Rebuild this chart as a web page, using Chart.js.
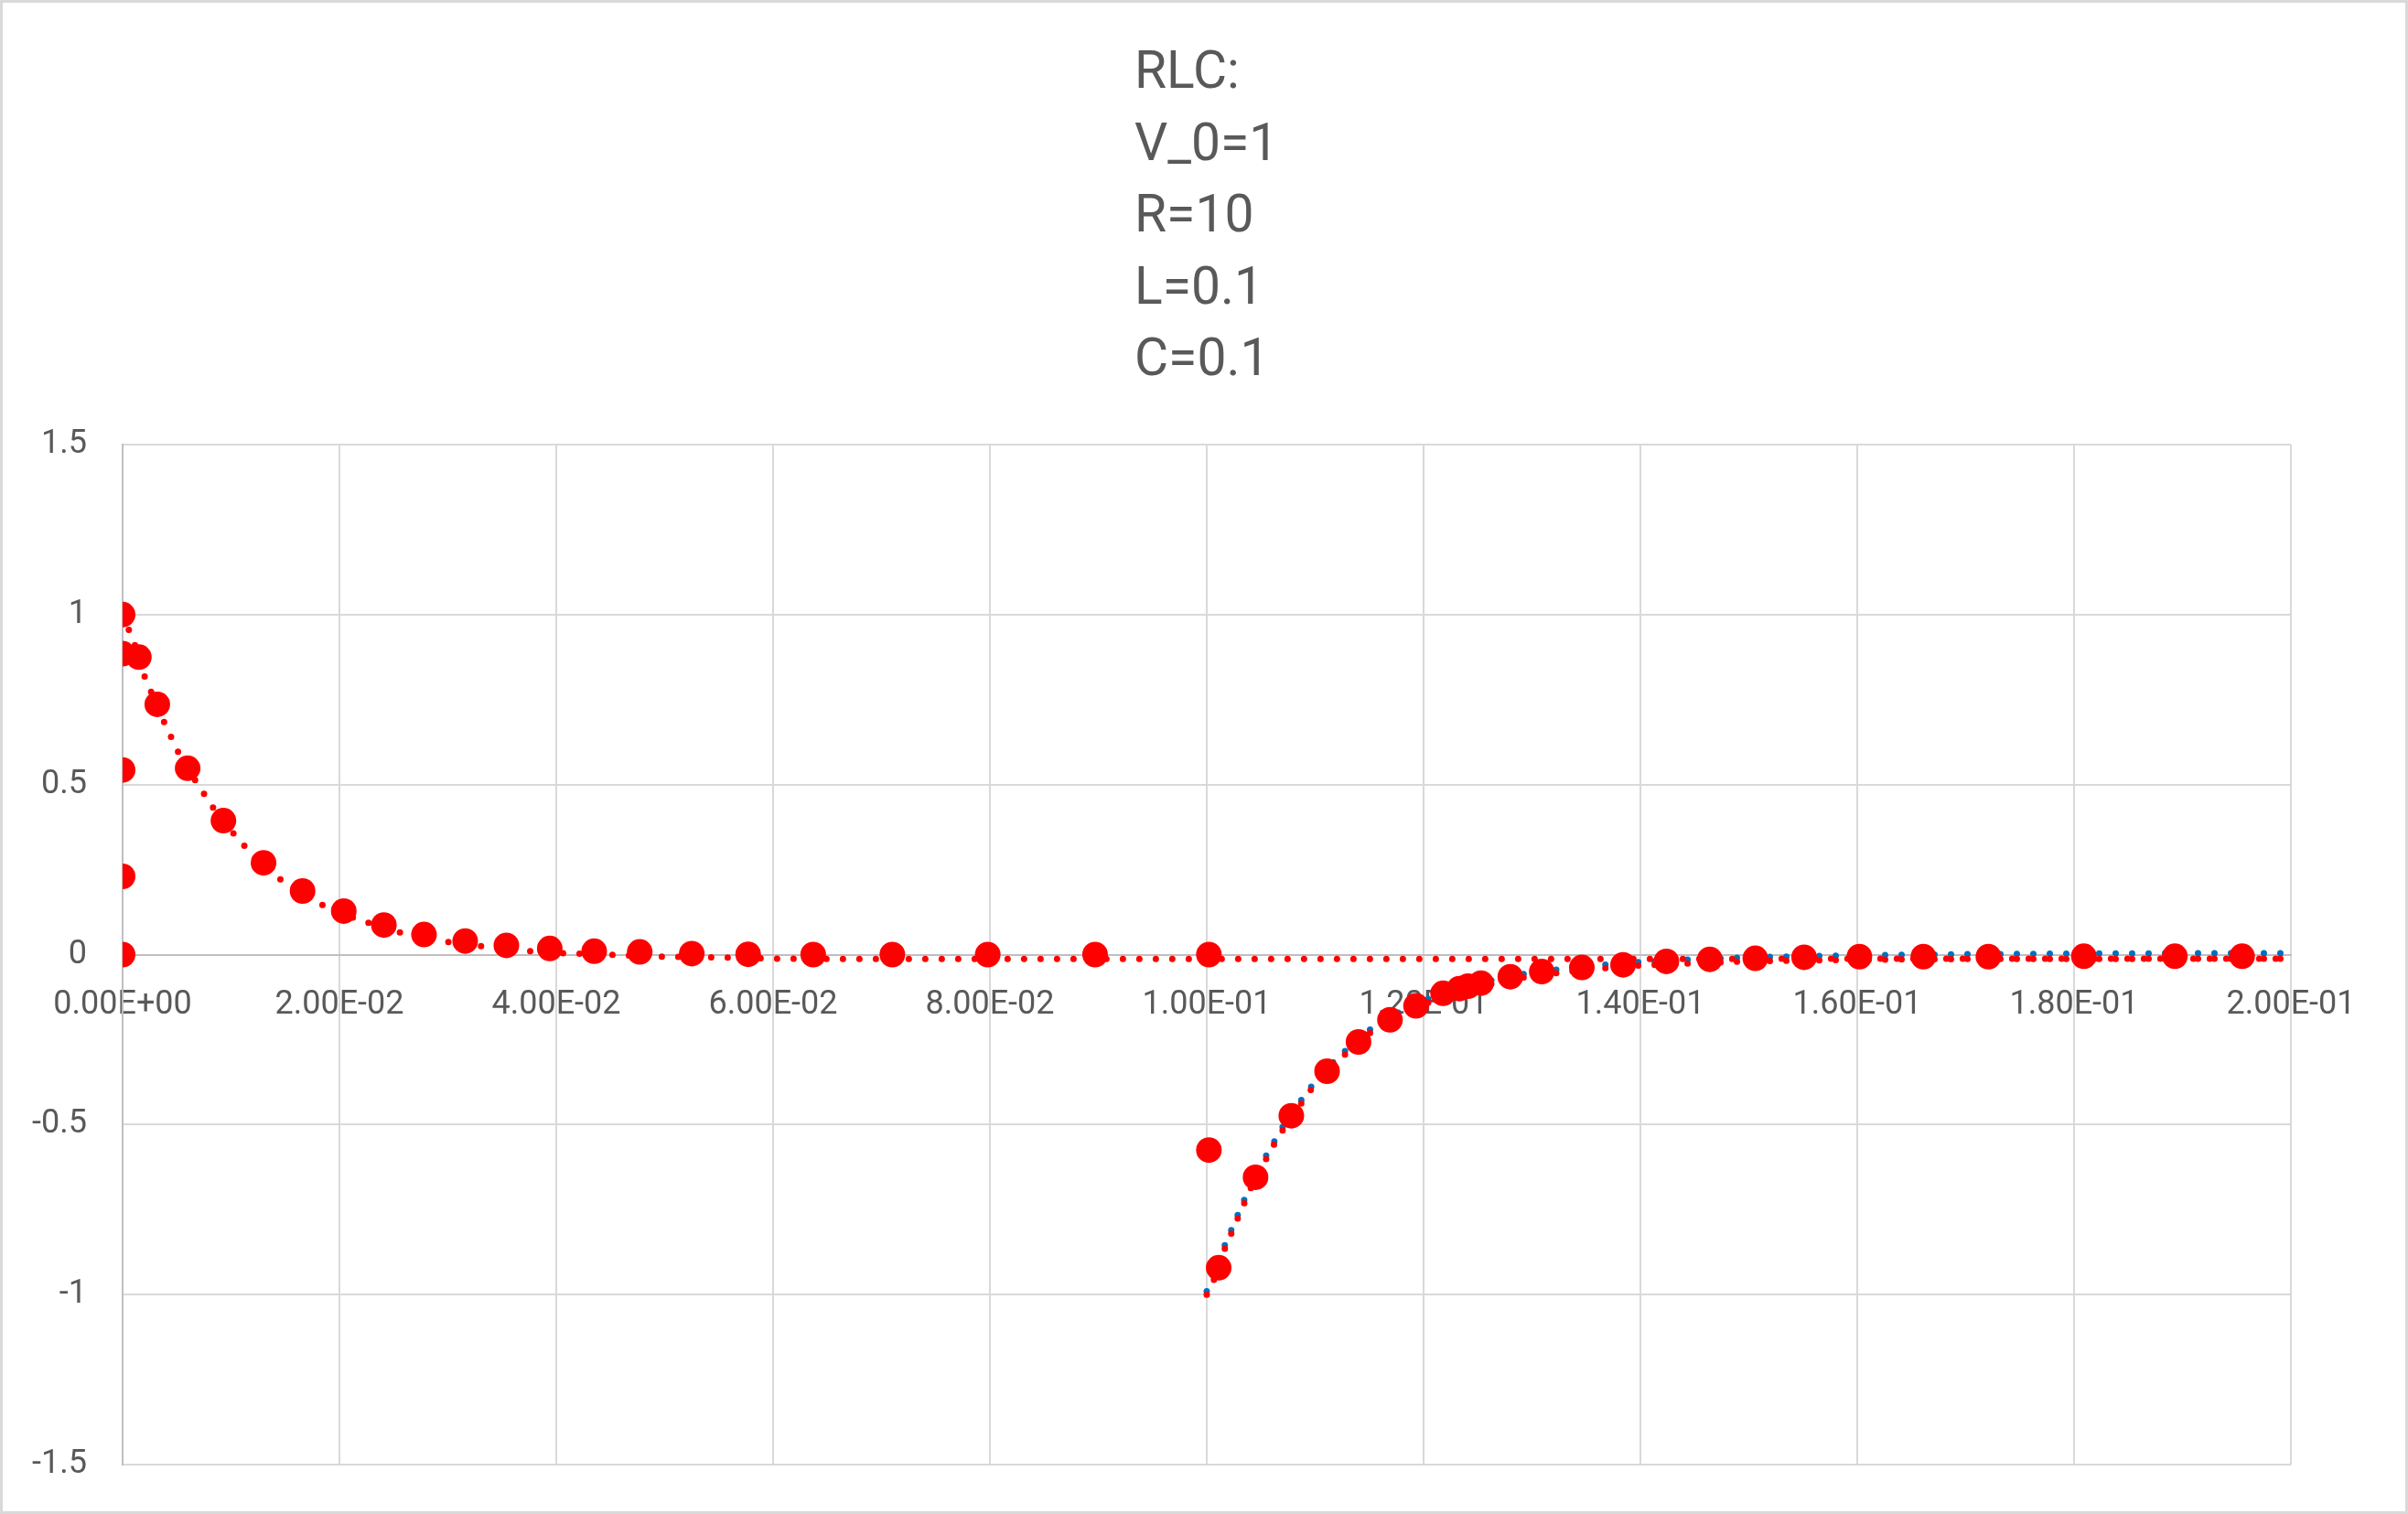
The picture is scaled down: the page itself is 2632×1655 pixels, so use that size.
<!DOCTYPE html>
<html>
<head>
<meta charset="utf-8">
<script src="https://cdn.jsdelivr.net/npm/chart.js@4"></script>
<style>
  html, body { margin: 0; padding: 0; background: #fff; }
  canvas { display: block; }
</style>
</head>
<body>
<canvas id="rlc" width="2632" height="1655"></canvas>
<script>
// chart title, one entry per line
const titleLines = ['RLC:', 'V_0=1', 'R=10', 'L=0.1', 'C=0.1'];

const xTickLabels = ['0.00E+00', '2.00E-02', '4.00E-02', '6.00E-02', '8.00E-02', '1.00E-01',
    '1.20E-01', '1.40E-01', '1.60E-01', '1.80E-01', '2.00E-01'];
const yTickLabels = ['-1.5', '-1', '-0.5', '0', '0.5', '1', '1.5'];

// solver steps (big red markers)
const stepTimes = [0, 0, 0, 0, 0, 0.0015, 0.0032, 0.0060, 0.0093, 0.0130, 0.0166, 0.0204,
    0.0241, 0.0278, 0.0316, 0.0354, 0.0394, 0.0435, 0.0477, 0.0525, 0.0577, 0.0637, 0.0710,
    0.0798, 0.0897, 0.1002, 0.1002, 0.1011, 0.1045, 0.1078, 0.1111, 0.1140, 0.1169, 0.1193,
    0.1218, 0.1233, 0.1241, 0.1253, 0.1280, 0.1309, 0.1346, 0.1384, 0.1424, 0.1464, 0.1506,
    0.1551, 0.1602, 0.1661, 0.1721, 0.1809, 0.1893, 0.1955];
const stepValues = [1.0, 0.885, 0.543, 0.230, 0, 0.875, 0.736, 0.548, 0.394, 0.270, 0.187, 0.128,
    0.087, 0.059, 0.040, 0.027, 0.018, 0.010, 0.008, 0.003, 0.001, 0, 0,
    0, 0, 0, -0.575, -0.921, -0.655, -0.474, -0.343, -0.257, -0.192, -0.151,
    -0.114, -0.100, -0.093, -0.084, -0.065, -0.050, -0.038, -0.030, -0.020, -0.014, -0.011,
    -0.008, -0.006, -0.006, -0.006, -0.005, -0.005, -0.005];

// red dotted curve, charging part
const riseTimes = [0, 0.0011, 0.002, 0.0038, 0.0051, 0.0067, 0.0083, 0.0102, 0.0125, 0.015,
    0.0175, 0.02, 0.025, 0.03, 0.033, 0.0376, 0.0407, 0.0452, 0.0497, 0.0543, 0.0604, 0.07,
    0.08, 0.1, 0.12, 0.14, 0.16, 0.18, 0.2];
const riseValues = [1.0, 0.914, 0.82, 0.686, 0.597, 0.513, 0.434, 0.357, 0.274, 0.21,
    0.16, 0.122, 0.069, 0.037, 0.025, 0.010, 0.004, -0.001, -0.006, -0.008, -0.012, -0.013,
    -0.013, -0.013, -0.013, -0.013, -0.012, -0.012, -0.012];

// red dotted curve, after switch-off
const fallTimes = [0.1, 0.1006, 0.1016, 0.1022, 0.1028, 0.1034, 0.104, 0.1054, 0.1061, 0.1069,
    0.1086, 0.1095, 0.1105, 0.1126, 0.115, 0.1175, 0.12, 0.1225, 0.125, 0.1275, 0.13, 0.135,
    0.14, 0.145, 0.15, 0.16, 0.17, 0.18, 0.19, 0.2];
const fallValues = [-1.0, -0.962, -0.870, -0.825, -0.78, -0.736, -0.691, -0.606, -0.564, -0.522,
    -0.443, -0.402, -0.362, -0.298, -0.232, -0.183, -0.146, -0.117, -0.095, -0.077, -0.063, -0.044,
    -0.032, -0.025, -0.020, -0.015, -0.013, -0.013, -0.012, -0.012];

// blue dotted (exact) curve
const exactTimes = [0.1, 0.1006, 0.1016, 0.1028, 0.104, 0.1054, 0.1069, 0.1086, 0.1105, 0.1126,
    0.115, 0.1175, 0.12, 0.1225, 0.125, 0.1275, 0.13, 0.135, 0.14, 0.145, 0.15, 0.16, 0.17,
    0.18, 0.19, 0.2];
const exactValues = [-0.99, -0.952, -0.86, -0.77, -0.681, -0.596, -0.512, -0.433, -0.352, -0.288,
    -0.222, -0.173, -0.136, -0.107, -0.085, -0.067, -0.053, -0.034, -0.022, -0.014, -0.008, -0.002, 0.001,
    0.003, 0.004, 0.004];

function pts(xs, ys) {
    return xs.map((x, i) => ({x: x, y: ys[i]}));
}

const textColor = '#595959';
const gridColor = '#D9D9D9';
const axisColor = '#BFBFBF';

const frame = {
    id: 'frame',
    beforeDraw(chart) {
        const ctx = chart.ctx;
        ctx.save();
        ctx.fillStyle = '#fff';
        ctx.fillRect(0, 0, chart.width, chart.height);
        ctx.strokeStyle = gridColor;
        ctx.lineWidth = 3;
        ctx.strokeRect(1.5, 1.5, chart.width - 3, chart.height - 3);
        ctx.restore();
    },
    afterDraw(chart) {
        // title block: lines left aligned, block centred
        const ctx = chart.ctx;
        ctx.save();
        ctx.font = '57px Roboto';
        ctx.fillStyle = textColor;
        ctx.textBaseline = 'alphabetic';
        ctx.textAlign = 'left';
        titleLines.forEach((line, i) => {
            ctx.fillText(line, 1240, 96 + i * 78.5);
        });
        ctx.restore();
    }
};

const lineStyle = {
    showLine: true,
    pointRadius: 0,
    borderWidth: 7,
    borderDash: [0, 18],
    borderCapStyle: 'round',
    fill: false
};

new Chart(document.getElementById('rlc'), {
    type: 'scatter',
    data: {
        datasets: [
            {
                label: 'steps',
                data: pts(stepTimes, stepValues),
                showLine: false,
                pointRadius: 14,
                pointBackgroundColor: '#FF0000',
                pointBorderWidth: 0,
                order: 0
            },
            Object.assign({label: 'v1', data: pts(riseTimes, riseValues), borderColor: '#FF0000', order: 1}, lineStyle),
            Object.assign({label: 'v2', data: pts(fallTimes, fallValues), borderColor: '#FF0000', order: 2}, lineStyle),
            Object.assign({label: 'exact', data: pts(exactTimes, exactValues), borderColor: '#0070C0', order: 3}, lineStyle)
        ]
    },
    options: {
        responsive: false,
        animation: false,
        devicePixelRatio: 1,
        layout: {padding: {left: 0, right: 128, top: 486, bottom: 54}},
        plugins: {
            legend: {display: false},
            tooltip: {enabled: false},
            title: {display: false}
        },
        scales: {
            x: {
                type: 'linear',
                position: {y: 0},
                min: 0,
                max: 0.2,
                ticks: {
                    stepSize: 0.02,
                    color: textColor,
                    font: {family: 'Roboto', size: 36},
                    padding: 34,
                    maxRotation: 0,
                    autoSkip: false,
                    callback: (v, i) => xTickLabels[i]
                },
                grid: {color: gridColor, lineWidth: 2, drawTicks: false},
                border: {display: true, color: axisColor, width: 2},
                afterFit: (s) => { s.height = 0; }
            },
            y: {
                type: 'linear',
                min: -1.5,
                max: 1.5,
                ticks: {
                    stepSize: 0.5,
                    color: textColor,
                    font: {family: 'Roboto', size: 36},
                    padding: 39,
                    callback: (v, i) => yTickLabels[i]
                },
                grid: {color: gridColor, lineWidth: 2, drawTicks: false},
                border: {display: true, color: axisColor, width: 2},
                afterFit: (s) => {
                    s.width = 134;
                    s.paddingTop = 0;
                    s.paddingBottom = 0;
                }
            }
        }
    },
    plugins: [frame]
});
</script>
</body>
</html>
